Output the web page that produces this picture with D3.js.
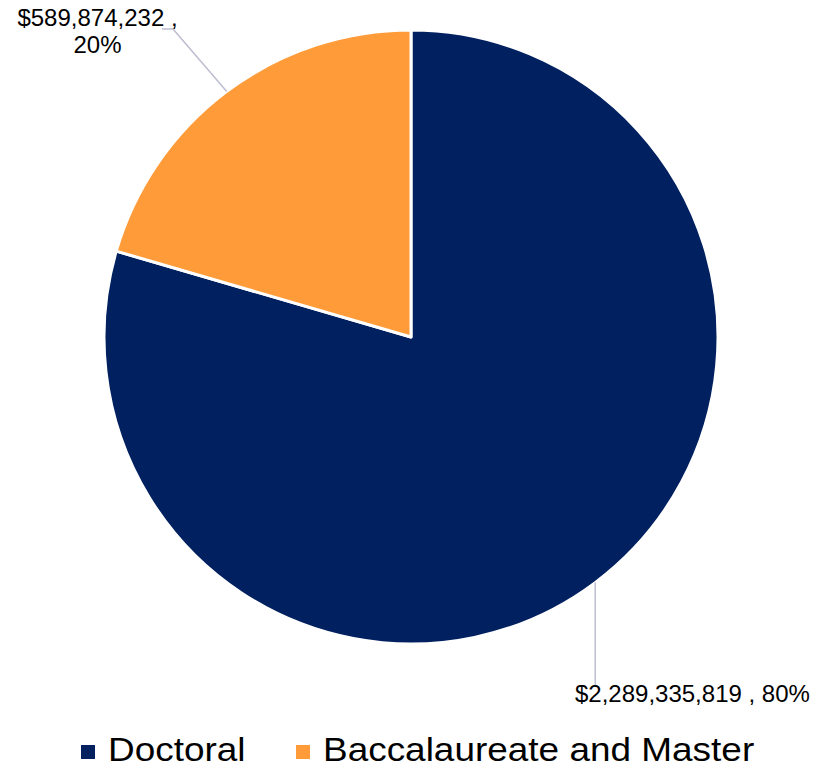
<!DOCTYPE html>
<html><head><meta charset="utf-8">
<script src="https://cdn.jsdelivr.net/npm/d3@7"></script>
<style>html,body{margin:0;padding:0;background:#fff;}svg{display:block;}</style>
</head><body>
<script>
const categories = ["Doctoral", "Baccalaureate and Master"];
const values = [2289335819, 589874232];
const colors = ["#002060", "#FF9B38"];

const W = 827, H = 768;
const cx = 411, cy = 337, R = 307;
const svg = d3.select("body").append("svg").attr("width", W).attr("height", H);

const data = categories.map((c, i) => ({cat: c, value: values[i], color: colors[i]}));
const total = d3.sum(values);
const pie = d3.pie().sort(null).value(d => d.value).startAngle(0).endAngle(2 * Math.PI);
const arcs = pie(data);
const arc = d3.arc().innerRadius(0).outerRadius(R);

const g = svg.append("g").attr("transform", `translate(${cx},${cy})`);
g.selectAll("path").data(arcs).join("path")
  .attr("d", arc)
  .attr("fill", d => d.data.color)
  .attr("stroke", "#fff")
  .attr("stroke-width", 3)
  .attr("stroke-linejoin", "round");

const fmt = d3.format(",");
const pct = d => Math.round(d.value / total * 100) + "%";
function edgePoint(a) {
  const m = (a.startAngle + a.endAngle) / 2;
  return [cx + R * Math.sin(m), cy - R * Math.cos(m)];
}
const lineColor = "#BDBDD1";
const font = "Liberation Sans, Arial, Helvetica, sans-serif";

// Doctoral label (bottom right)
{
  const a = arcs[0];
  const [px, py] = edgePoint(a);
  svg.append("line").attr("x1", px).attr("y1", py).attr("x2", px).attr("y2", 685)
    .attr("stroke", lineColor).attr("stroke-width", 1.5);
  svg.append("text").attr("x", 575).attr("y", 702)
    .attr("font-family", font).attr("font-size", 24).attr("fill", "#000")
    .text("$" + fmt(a.data.value) + " , " + pct(a.data));
}
// Baccalaureate label (top left)
{
  const a = arcs[1];
  const [px, py] = edgePoint(a);
  svg.append("polyline")
    .attr("points", `${px},${py} 173,29 162,29`)
    .attr("fill", "none").attr("stroke", lineColor).attr("stroke-width", 1.5);
  const t = svg.append("text").attr("text-anchor", "middle")
    .attr("font-family", font).attr("font-size", 24).attr("fill", "#000");
  t.append("tspan").attr("x", 97.5).attr("y", 26).text("$" + fmt(a.data.value) + " ,");
  t.append("tspan").attr("x", 97.5).attr("y", 53).text(pct(a.data));
}

// Legend
const legendX = [81, 296];
const lg = svg.append("g");
data.forEach((d, i) => {
  lg.append("rect").attr("x", legendX[i]).attr("y", 745).attr("width", 14).attr("height", 14)
    .attr("fill", d.color);
  lg.append("text")
    .attr("transform", `translate(${legendX[i] + 27},760.5) scale(1.12,1)`)
    .attr("font-family", font).attr("font-size", 33).attr("fill", "#000")
    .text(d.cat);
});
</script>
</body></html>
